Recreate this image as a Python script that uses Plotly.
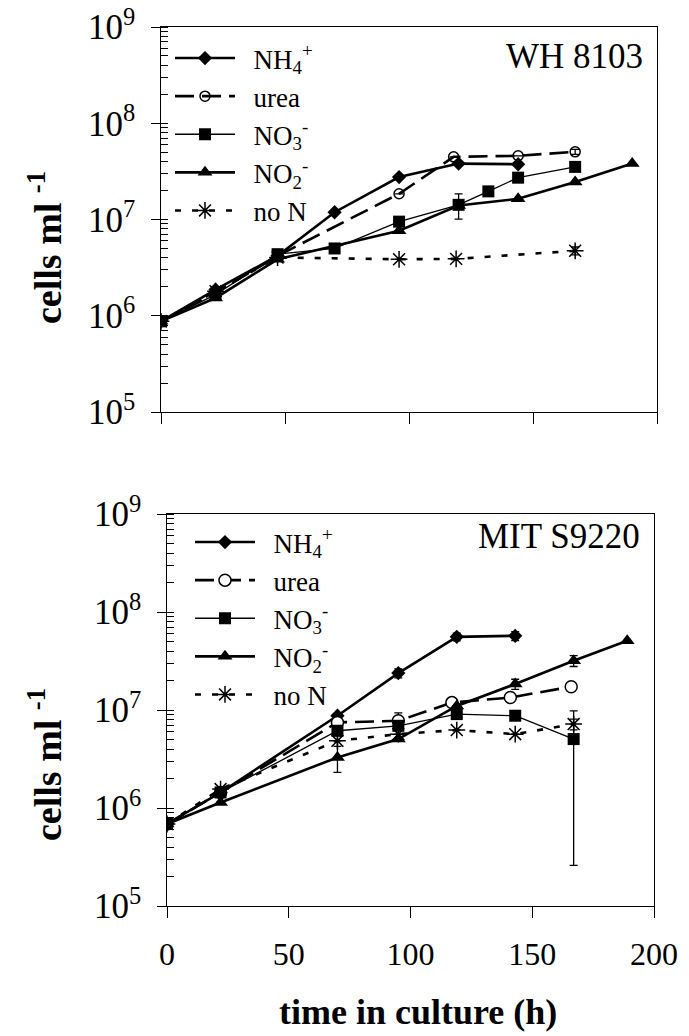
import plotly.graph_objects as go

# ---------------- data: WH 8103 (top panel) ----------------
wh_nh4_t = [0, 22, 47, 70, 96, 120, 144]
wh_nh4_v = [8.75e5, 1.87e6, 4.19e6, 1.19e7, 2.76e7, 3.81e7, 3.75e7]

wh_urea_t = [0, 22, 47, 96, 118, 144, 167]
wh_urea_v = [8.75e5, 1.73e6, 4.19e6, 1.85e7, 4.48e7, 4.59e7, 5.05e7]
wh_urea_ep = [0, 0, 0, 0, 0, 0, 3.0e6]
wh_urea_em = [0, 0, 0, 0, 0, 0, 3.0e6]

wh_no3_t = [0, 22, 47, 70, 96, 120, 132, 144, 167]
wh_no3_v = [8.75e5, 1.66e6, 4.36e6, 5.0e6, 9.5e6, 1.42e7, 1.96e7, 2.72e7, 3.52e7]

wh_no2_t = [0, 22, 47, 96, 120, 144, 167, 190]
wh_no2_v = [8.75e5, 1.53e6, 3.86e6, 7.65e6, 1.40e7, 1.64e7, 2.45e7, 3.81e7]
wh_no2_ep = [0, 0, 0, 0, 4.5e6, 0, 0, 0]
wh_no2_em = [0, 0, 0, 0, 3.9e6, 0, 0, 0]

wh_non_t = [0, 22, 47, 96, 119, 167]
wh_non_v = [8.75e5, 1.8e6, 4.03e6, 3.86e6, 3.9e6, 4.73e6]
wh_non_ep = [0, 0, 0, 0, 0, 4.5e5]
wh_non_em = [0, 0, 0, 0, 0, 4.5e5]

# ---------------- data: MIT S9220 (bottom panel) ----------------
mit_nh4_t = [0, 22, 70, 95, 119, 143]
mit_nh4_v = [6.87e5, 1.44e6, 8.74e6, 2.38e7, 5.58e7, 5.72e7]
mit_nh4_ep = [0, 0, 0, 2.5e6, 5.0e6, 6.0e6]
mit_nh4_em = [0, 0, 0, 2.5e6, 5.0e6, 6.0e6]

mit_urea_t = [0, 22, 70, 95, 117, 141, 166]
mit_urea_v = [6.87e5, 1.44e6, 7.47e6, 7.76e6, 1.19e7, 1.34e7, 1.73e7]
mit_urea_ep = [0, 0, 0, 1.6e6, 0, 0, 0]
mit_urea_em = [0, 0, 0, 1.3e6, 0, 0, 0]

mit_no3_t = [0, 22, 70, 95, 119, 143, 167]
mit_no3_v = [6.87e5, 1.44e6, 6.14e6, 6.9e6, 9.08e6, 8.74e6, 5.05e6]
mit_no3_ep = [0, 0, 0, 0, 0, 0, 4.75e6]
mit_no3_em = [0, 0, 0, 0, 0, 0, 4.79e6]

mit_no2_t = [0, 22, 70, 95, 119, 143, 167, 189]
mit_no2_v = [6.87e5, 1.14e6, 3.28e6, 5.05e6, 1.10e7, 1.84e7, 3.18e7, 5.08e7]
mit_no2_ep = [0, 0, 1.57e6, 0, 0, 2.2e6, 4.0e6, 0]
mit_no2_em = [0, 0, 0.97e6, 0, 0, 2.2e6, 4.0e6, 0]

mit_non_t = [0, 22, 70, 95, 119, 143, 167]
mit_non_v = [6.87e5, 1.56e6, 4.85e6, 5.67e6, 6.24e6, 5.67e6, 7.18e6]
mit_non_ep = [0, 0, 6.0e5, 0, 0, 0, 9.0e5]
mit_non_em = [0, 0, 6.0e5, 0, 0, 0, 9.0e5]

x_ticks = [0, 50, 100, 150, 200]

legend_names = ["\u00a0\u00a0NH<sub>4</sub><sup>+</sup>", "\u00a0\u00a0urea",
                "\u00a0\u00a0NO<sub>3</sub><sup>-</sup>", "\u00a0\u00a0NO<sub>2</sub><sup>-</sup>",
                "\u00a0\u00a0no N"]

FONT = "Liberation Serif"
BLACK = "#000000"

def styles(panel):
    urea_marker = (dict(symbol="circle-open", size=10, color=BLACK, line=dict(width=1.5, color=BLACK))
                   if panel == 0 else
                   dict(symbol="circle", size=12, color="white", line=dict(width=1.5, color=BLACK)))
    return [
        dict(line=dict(color=BLACK, width=2.6), marker=dict(symbol="diamond", size=11, color=BLACK)),
        dict(line=dict(color=BLACK, width=2.6, dash="19px,8px"), marker=urea_marker),
        dict(line=dict(color=BLACK, width=1.3), marker=dict(symbol="square", size=12, color=BLACK)),
        dict(line=dict(color=BLACK, width=2.6), marker=dict(symbol="triangle-up", size=13, color=BLACK)),
        dict(line=dict(color=BLACK, width=2.6, dash="6px,11px"),
             marker=dict(symbol="asterisk-open", size=14, color=BLACK, line=dict(width=1.5, color=BLACK))),
    ]

fig = go.Figure()

def add(t, v, ep, em, idx, panel, xa, ya, leg):
    st = styles(panel)[idx]
    err = None
    if ep is not None:
        err = dict(type="data", array=ep, arrayminus=em, symmetric=False,
                   color=BLACK, thickness=1.3, width=4)
    fig.add_trace(go.Scatter(x=t, y=v, mode="lines+markers", name=legend_names[idx],
                             line=st["line"], marker=st["marker"], error_y=err,
                             xaxis=xa, yaxis=ya, legend=leg, legendgroup=leg + str(idx),
                             showlegend=True))

top = [
    (wh_nh4_t, wh_nh4_v, None, None),
    (wh_urea_t, wh_urea_v, wh_urea_ep, wh_urea_em),
    (wh_no3_t, wh_no3_v, None, None),
    (wh_no2_t, wh_no2_v, wh_no2_ep, wh_no2_em),
    (wh_non_t, wh_non_v, wh_non_ep, wh_non_em),
]
bot = [
    (mit_nh4_t, mit_nh4_v, mit_nh4_ep, mit_nh4_em),
    (mit_urea_t, mit_urea_v, mit_urea_ep, mit_urea_em),
    (mit_no3_t, mit_no3_v, mit_no3_ep, mit_no3_em),
    (mit_no2_t, mit_no2_v, mit_no2_ep, mit_no2_em),
    (mit_non_t, mit_non_v, mit_non_ep, mit_non_em),
]
for i, (t, v, ep, em) in enumerate(top):
    add(t, v, ep, em, i, 0, "x", "y", "legend")
for i, (t, v, ep, em) in enumerate(bot):
    add(t, v, ep, em, i, 1, "x2", "y2", "legend2")

W, H = 689, 1036

def xax(l, r, anchor, labels):
    return dict(domain=[l / W, r / W], range=[0, 200], anchor=anchor, automargin=False,
                tickvals=x_ticks, ticktext=[str(v) for v in x_ticks],
                showticklabels=labels, ticks="outside", ticklen=11, tickwidth=1.3,
                ticklabelstandoff=8,
                tickcolor=BLACK, showline=True, mirror=True, linecolor=BLACK, linewidth=1.3,
                showgrid=False, zeroline=False,
                tickfont=dict(family=FONT, size=32, color=BLACK))

def yax(top_px, bot_px, anchor):
    return dict(domain=[1 - bot_px / H, 1 - top_px / H], type="log", range=[5, 9], anchor=anchor,
                automargin=False,
                dtick=1, exponentformat="power", showexponent="all",
                ticks="outside", ticklen=9, tickwidth=1.3, tickcolor=BLACK,
                ticklabelstandoff=10,
                minor=dict(ticks="inside", ticklen=7, tickwidth=1.1, tickcolor=BLACK, dtick="D1",
                           showgrid=False),
                showline=True, mirror=True, linecolor=BLACK, linewidth=1.3,
                showgrid=False, zeroline=False,
                tickfont=dict(family=FONT, size=28, color=BLACK))

leg_common = dict(bgcolor="rgba(0,0,0,0)", borderwidth=0, itemwidth=60,
                  font=dict(family=FONT, size=27, color=BLACK), tracegroupgap=0,
                  xanchor="left", yanchor="top", itemclick=False)

fig.update_layout(
    width=W, height=H, margin=dict(l=0, r=0, t=0, b=0, autoexpand=False),
    paper_bgcolor="white", plot_bgcolor="white",
    xaxis=xax(161, 657, "y", False),
    yaxis=yax(27, 412, "x"),
    xaxis2=xax(167, 654, "y2", True),
    yaxis2=yax(514, 906, "x2"),
    legend=dict(x=170 / W, y=1 - 34 / H, **leg_common),
    legend2=dict(x=190 / W, y=1 - 518 / H, **leg_common),
    showlegend=True,
    annotations=[
        dict(text="WH 8103", x=645 / W, y=1 - 56 / H, xref="paper", yref="paper",
             xanchor="right", yanchor="middle", showarrow=False,
             font=dict(family=FONT, size=35, color=BLACK)),
        dict(text="MIT S9220", x=642 / W, y=1 - 536 / H, xref="paper", yref="paper",
             xanchor="right", yanchor="middle", showarrow=False,
             font=dict(family=FONT, size=35, color=BLACK)),
        dict(text="<b>cells ml <sup>-1</sup></b>", x=45 / W, y=1 - 248 / H, xref="paper", yref="paper",
             xanchor="center", yanchor="middle", textangle=-90, showarrow=False,
             font=dict(family=FONT, size=38, color=BLACK)),
        dict(text="<b>cells ml <sup>-1</sup></b>", x=45 / W, y=1 - 765 / H, xref="paper", yref="paper",
             xanchor="center", yanchor="middle", textangle=-90, showarrow=False,
             font=dict(family=FONT, size=38, color=BLACK)),
        dict(text="<b>time in culture (h)</b>", x=418 / W, y=1 - 1012 / H, xref="paper", yref="paper",
             xanchor="center", yanchor="middle", showarrow=False,
             font=dict(family=FONT, size=36, color=BLACK)),
    ],
)

fig.write_html("out.html")
